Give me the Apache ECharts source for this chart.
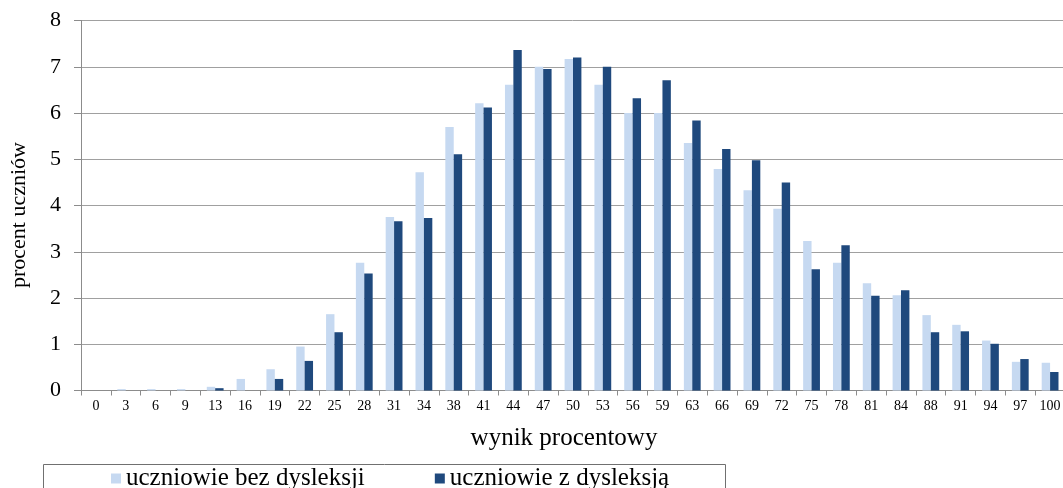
<!DOCTYPE html>
<html>
<head>
<meta charset="utf-8">
<script src="https://cdn.jsdelivr.net/npm/echarts@6/dist/echarts.min.js"></script>
<style>
html,body{margin:0;padding:0;background:#fff;}
#chart{width:1063px;height:488px;}
</style>
</head>
<body>
<div id="chart"></div>
<script>
const categories = ['0','3','6','9','13','16','19','22','25','28','31','34','38','41','44','47','50','53','56','59','63','66','69','72','75','78','81','84','88','91','94','97','100'];
const bezDysleksji = [0,0.03,0.03,0.03,0.08,0.25,0.46,0.95,1.65,2.76,3.75,4.72,5.70,6.21,6.61,7.00,7.17,6.61,6.00,6.00,5.35,4.79,4.33,3.93,3.23,2.76,2.32,2.06,1.63,1.42,1.08,0.62,0.60];
const zDysleksja = [0,0,0,0,0.05,0,0.25,0.64,1.26,2.53,3.66,3.73,5.11,6.12,7.36,6.95,7.20,7.00,6.32,6.71,5.84,5.22,4.98,4.50,2.62,3.14,2.05,2.17,1.26,1.28,1.01,0.68,0.40];
const yTicks = [0,1,2,3,4,5,6,7,8];
const seriesNames = ['uczniowie bez dysleksji','uczniowie z dysleksją'];
const xTitle = 'wynik procentowy';
const yTitle = 'procent uczniów';

const serif = '"Liberation Serif", "DejaVu Serif", serif';
const chart = echarts.init(document.getElementById('chart'), null, {renderer:'canvas'});
chart.setOption({
  animation:false,
  backgroundColor:'#fff',
  grid:{left:81, top:20.5, width:984, height:370, containLabel:false, outerBoundsMode:'none'},
  legend:{
    left:111, top:466, padding:0, itemWidth:10, itemHeight:10, itemGap:70,
    icon:'rect',
    textStyle:{fontFamily:serif, fontSize:25, color:'#000'},
    data:seriesNames
  },
  graphic:[
    {type:'rect', silent:true, shape:{x:43.5, y:464.5, width:682, height:60}, style:{fill:'none', stroke:'#707070', lineWidth:1}},
    {type:'text', silent:true, x:564, y:438, style:{text:xTitle, font:'25px "Liberation Serif", serif', fill:'#000', align:'center', verticalAlign:'middle'}},
    {type:'text', silent:true, x:19, y:215, rotation:Math.PI/2, style:{text:yTitle, font:'22px "Liberation Serif", serif', fill:'#000', align:'center', verticalAlign:'middle'}}
  ],
  xAxis:{
    type:'category', data:categories,
    axisLine:{lineStyle:{color:'#8c8c8c'}},
    axisTick:{show:true, alignWithLabel:false, length:5, lineStyle:{color:'#8c8c8c'}},
    axisLabel:{fontFamily:serif, fontSize:14, color:'#000', margin:9, interval:0}
  },
  yAxis:{
    type:'value', min:0, max:8, interval:1,
    axisLine:{show:true, lineStyle:{color:'#8c8c8c'}},
    axisTick:{show:true, inside:false, length:7, lineStyle:{color:'#8c8c8c'}},
    splitLine:{lineStyle:{color:'#a0a0a0', width:1}},
    axisLabel:{fontFamily:serif, fontSize:22, color:'#000', margin:20,
      formatter:function(v){return yTicks.indexOf(v)>=0?String(v):'';}}
  },
  series:[
    {name:seriesNames[0], type:'bar', data:bezDysleksji, barWidth:8.4, barGap:'0%', itemStyle:{color:'#c6d9f1'}},
    {name:seriesNames[1], type:'bar', data:zDysleksja, barWidth:8.4, barGap:'0%', itemStyle:{color:'#1f497d'}}
  ]
});
</script>
</body>
</html>
